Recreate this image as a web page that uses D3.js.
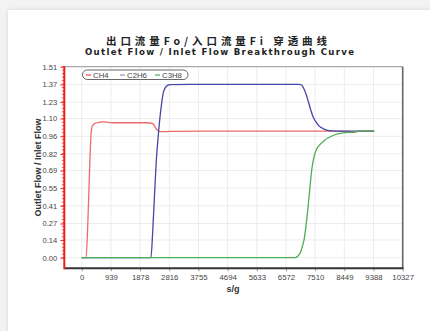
<!DOCTYPE html>
<html>
<head>
<meta charset="utf-8">
<script src="https://cdn.jsdelivr.net/npm/d3@7"></script>
<style>
  html, body { margin: 0; padding: 0; background: #f3f3f3; }
  svg { display: block; font-family: "Liberation Sans", Arial, sans-serif; }
</style>
</head>
<body>
<svg id="chart" width="430" height="331"></svg>
<script>
// titles
var titleCn = "出口流量Fo/入口流量Fi 穿透曲线";
var titleEn = "Outlet Flow / Inlet Flow Breakthrough Curve";

// axis tick labels
var xTicks = [0, 939, 1878, 2816, 3755, 4694, 5633, 6572, 7510, 8449, 9388, 10327];
var yTicks = ["0.00", "0.14", "0.27", "0.41", "0.55", "0.69", "0.82", "0.96", "1.10", "1.23", "1.37", "1.51"];

// series, [s/g, outlet/inlet]
var seriesNames = ["CH4", "C2H6", "C3H8"];
var seriesColors = ["#ee6a6a", "#4646a8", "#4fae55"];
var legendColors = ["#ee4444", "#8c8cd0", "#4fae55"];

var ch4 = [
  [0, 0], [140, 0], [200, 0.3], [260, 0.75], [300, 0.98], [340, 1.04], [420, 1.062],
  [560, 1.07], [700, 1.075], [840, 1.07], [1000, 1.067], [1500, 1.067], [2000, 1.067],
  [2200, 1.065], [2290, 1.06], [2380, 1.025], [2450, 1.005], [2520, 0.997], [2650, 0.996],
  [2816, 0.998], [4000, 1.0], [6000, 1.0], [8000, 1.0], [8600, 0.998], [8760, 0.99],
  [8900, 1.0], [9410, 1.0]
];
var c2h6 = [
  [0, 0], [2226, 0], [2280, 0.19], [2334, 0.456], [2400, 0.77], [2473, 0.996],
  [2560, 1.2], [2620, 1.3], [2689, 1.345], [2760, 1.362], [2851, 1.368], [3500, 1.37],
  [5000, 1.37], [7000, 1.37], [7077, 1.365], [7140, 1.34], [7207, 1.30], [7290, 1.235],
  [7368, 1.168], [7450, 1.11], [7530, 1.075], [7640, 1.04], [7745, 1.023], [7880, 1.008],
  [8013, 1.002], [8500, 1.0], [9410, 1.0]
];
var c3h8 = [
  [0, 0], [6883, 0], [6960, 0.015], [7046, 0.047], [7100, 0.09], [7153, 0.14], [7210, 0.24],
  [7261, 0.35], [7335, 0.535], [7400, 0.693], [7450, 0.77], [7497, 0.82], [7560, 0.86],
  [7650, 0.89], [7800, 0.925], [7906, 0.944], [8050, 0.962], [8229, 0.978], [8400, 0.986],
  [8552, 0.991], [8700, 0.99], [8820, 0.997], [9000, 1.0], [9410, 1.0]
];
var seriesData = [ch4, c2h6, c3h8];

var svg = d3.select("#chart");

// white card on grey page
svg.append("rect").attr("x", 0).attr("y", 0).attr("width", 430).attr("height", 331).attr("fill", "#f3f3f3");
svg.append("rect").attr("x", 8).attr("y", 10).attr("width", 440).attr("height", 340)
  .attr("fill", "#fff").style("filter", "drop-shadow(0 0 2px rgba(0,0,0,0.12))");

// plot area edges
var pLeft = 64.3, pRight = 402.7, pTop = 66.7, pBottom = 268.3;

var x = d3.scaleLinear().domain([-561, 10327]).range([pLeft, pRight]);
var y = d3.scaleLinear().domain([-0.084, 1.51]).range([pBottom, pTop]);

// titles
svg.append("text").attr("x", 216.5).attr("y", 45).attr("text-anchor", "middle")
  .attr("font-family", "'Noto Sans CJK SC', sans-serif").attr("font-weight", "bold")
  .attr("font-size", 10.5).attr("fill", "#222")
  .attr("textLength", 221).attr("lengthAdjust", "spacing")
  .text(titleCn);
svg.append("text").attr("x", 219.5).attr("y", 54.5).attr("text-anchor", "middle")
  .attr("font-family", "'DejaVu Sans', sans-serif").attr("font-weight", "bold")
  .attr("font-size", 8.6).attr("fill", "#222")
  .attr("textLength", 269).attr("lengthAdjust", "spacing")
  .text(titleEn);

// grid
var grid = svg.append("g").attr("stroke", "#ececec").attr("stroke-width", 1);
grid.selectAll(".gx").data(xTicks).enter().append("line")
  .attr("x1", function(d) { return x(d); }).attr("x2", function(d) { return x(d); })
  .attr("y1", pTop).attr("y2", pBottom);
grid.selectAll(".gy").data(yTicks).enter().append("line")
  .attr("x1", pLeft).attr("x2", pRight)
  .attr("y1", function(d) { return y(+d); }).attr("y2", function(d) { return y(+d); });

// frame
svg.append("line").attr("x1", pLeft).attr("x2", pRight).attr("y1", pTop).attr("y2", pTop)
  .attr("stroke", "#999").attr("stroke-width", 1);
svg.append("line").attr("x1", pRight).attr("x2", pRight).attr("y1", pTop).attr("y2", pBottom)
  .attr("stroke", "#666").attr("stroke-width", 1.6);

// curves
var line = d3.line()
  .x(function(d) { return x(d[0]); })
  .y(function(d) { return y(d[1]); })
  .curve(d3.curveMonotoneX);

svg.append("g").selectAll("path").data(seriesData).enter().append("path")
  .attr("d", line)
  .attr("fill", "none")
  .attr("stroke", function(d, i) { return seriesColors[i]; })
  .attr("stroke-width", 1.3)
  .attr("stroke-linejoin", "round");

// x axis
var xAxis = d3.axisBottom(x).tickValues(xTicks).tickSize(3).tickPadding(3)
  .tickFormat(function(d) { return d; });
var gx = svg.append("g").attr("transform", "translate(0," + pBottom + ")").call(xAxis);
gx.select(".domain").remove();
gx.selectAll(".tick line").attr("stroke", "#999");
gx.selectAll(".tick text").attr("font-size", 7.8).attr("fill", "#444")
  .attr("font-family", "'Liberation Sans', Arial, sans-serif");
svg.append("line").attr("x1", pLeft).attr("x2", pRight + 0.8).attr("y1", pBottom).attr("y2", pBottom)
  .attr("stroke", "#333").attr("stroke-width", 2);

// y axis (red, with minor ticks)
var minor = d3.range(0, 56).map(function(i) { return i * 1.51 / 55; });
svg.append("g").selectAll("line").data(minor).enter().append("line")
  .attr("x1", pLeft - 2.5).attr("x2", pLeft)
  .attr("y1", function(d) { return y(d); }).attr("y2", function(d) { return y(d); })
  .attr("stroke", "#f03030").attr("stroke-width", 0.8);
var yAxis = d3.axisLeft(y).tickValues(yTicks.map(Number)).tickSize(4).tickPadding(3)
  .tickFormat(function(d, i) { return yTicks[i]; });
var gy = svg.append("g").attr("transform", "translate(" + pLeft + ",0)").call(yAxis);
gy.select(".domain").remove();
gy.selectAll(".tick line").attr("stroke", "#f03030");
gy.selectAll(".tick text").attr("font-size", 7.6).attr("fill", "#444")
  .attr("font-family", "'Liberation Sans', Arial, sans-serif");
svg.append("line").attr("x1", pLeft).attr("x2", pLeft).attr("y1", pTop - 0.5).attr("y2", pBottom + 1)
  .attr("stroke", "#f01c1c").attr("stroke-width", 2);

// axis titles
svg.append("text").attr("transform", "translate(41,167.5) rotate(-90)")
  .attr("text-anchor", "middle").attr("font-size", 9).attr("font-weight", "bold")
  .attr("fill", "#333").text("Outlet Flow / Inlet Flow");
svg.append("text").attr("x", 233).attr("y", 292).attr("text-anchor", "middle")
  .attr("font-size", 9).attr("font-weight", "bold").attr("fill", "#333").text("s/g");

// legend
var lg = svg.append("g");
lg.append("rect").attr("x", 82.5).attr("y", 70).attr("width", 105.5).attr("height", 9.5)
  .attr("rx", 4.7).attr("fill", "#fff").attr("stroke", "#555").attr("stroke-width", 0.9);
var legendX = [86, 120, 155];
var items = lg.selectAll(".item").data(seriesNames).enter().append("g")
  .attr("transform", function(d, i) { return "translate(" + legendX[i] + ",75)"; });
items.append("line").attr("x1", 0).attr("x2", 5).attr("y1", 0).attr("y2", 0)
  .attr("stroke", function(d, i) { return legendColors[i]; }).attr("stroke-width", 1.2);
items.append("text").attr("x", 7).attr("y", 2.8).attr("font-size", 7.8).attr("fill", "#444")
  .text(function(d) { return d; });
</script>
</body>
</html>
